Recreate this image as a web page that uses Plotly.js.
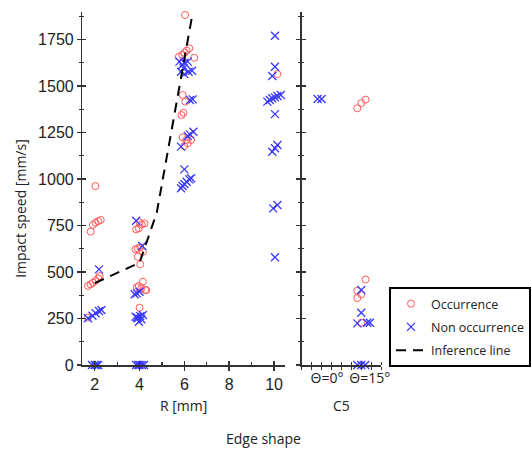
<!DOCTYPE html>
<html>
<head>
<meta charset="utf-8">
<script src="https://cdn.plot.ly/plotly-3.0.1.min.js"></script>
<style>html,body{margin:0;padding:0;background:#fff;}#chart{width:531px;height:451px;}</style>
</head>
<body>
<div id="chart"></div>
<script>
// ---- Data ----
// Left panel: edge radius R [mm] (points jittered around 2, 4, 6, 10)
const occR = [2.03,1.82,1.92,2.04,2.16,2.27,1.70,1.81,1.92,2.04,2.16,2.22,1.69,
  4.00,4.10,4.22,3.85,3.97,3.82,3.92,4.03,4.15,3.92,4.03,4.15,3.97,3.88,4.08,4.25,4.30,4.00,
  6.03,6.22,6.10,6.00,6.44,5.75,5.90,5.92,6.04,5.96,5.87,5.92,6.08,6.30,6.15,6.00,
  10.15];
const occSpeed = [962,717,753,765,774,780,425,434,442,453,466,478,255,
  767,756,762,729,735,622,627,633,609,582,541,448,425,418,412,403,403,308,
  1882,1703,1690,1679,1652,1657,1667,1452,1416,1356,1344,1224,1210,1210,1192,1177,
  1564];
const nonR = [2.19,1.70,1.90,2.04,2.19,2.30,1.88,2.00,2.08,2.15,
  3.85,4.12,3.78,3.88,4.00,3.82,3.92,4.03,4.15,3.97,4.08,3.88,3.85,3.95,4.00,4.10,4.20,
  5.78,5.90,6.00,6.15,5.85,6.00,6.19,6.34,5.96,6.37,6.25,6.40,6.25,6.15,5.85,6.00,6.22,6.10,6.00,5.92,5.85,6.30,
  10.04,10.04,9.92,9.70,9.81,9.92,10.04,10.15,10.30,10.04,9.92,10.04,10.15,9.96,10.15,10.04];
const nonSpeed = [514,251,265,278,290,296,0,0,0,0,
  776,640,380,385,394,260,251,263,269,233,246,255,0,0,0,0,0,
  1631,1613,1625,1631,1577,1564,1577,1582,1595,1428,1425,1254,1240,1231,1174,1052,998,985,973,962,950,1004,
  1770,1604,1554,1416,1425,1434,1439,1446,1452,1349,1147,1165,1183,842,860,579];
// Inference line
const lineR = [2, 4, 4.77, 6.36];
const lineSpeed = [440, 550, 820, 1887];
// Right panel: C5 edge, angle Θ (positions on a 0..8 slot axis, jittered)
const c5OccPos = [5.6,6.0,6.43,6.43,5.6,6.0,5.6,6.0];
const c5OccSpeed = [1380,1408,1427,460,399,380,360,227];
const c5NonPos = [1.6,2.0,6.0,6.0,5.6,6.6,6.87,5.6,6.0,6.4];
const c5NonSpeed = [1430,1430,403,281,224,227,227,0,0,0];
const c5TickPos = [2.55, 6.85];
const c5TickText = ['Θ=0°', 'Θ=15°'];
const rTicks = [2, 4, 6, 8, 10];

// ---- Styles ----
const RED = 'rgb(255,90,90)';
const BLUE = 'rgb(55,55,255)';
const occMarker = {symbol:'circle-open', size:7, color:RED, line:{color:RED, width:1}};
const nonMarker = {symbol:'x-thin-open', size:8, color:BLUE, line:{color:BLUE, width:1.3}};

const traces = [
  {x:occR, y:occSpeed, type:'scatter', mode:'markers', name:'Occurrence', legendgroup:'a', marker:occMarker, xaxis:'x', yaxis:'y', cliponaxis:false},
  {x:nonR, y:nonSpeed, type:'scatter', mode:'markers', name:'Non occurrence', legendgroup:'b', marker:nonMarker, xaxis:'x', yaxis:'y', cliponaxis:false},
  {x:lineR, y:lineSpeed, type:'scatter', mode:'lines', name:'Inference line', legendgroup:'c', line:{color:'#000', width:2, dash:'10px,7px'}, xaxis:'x', yaxis:'y', cliponaxis:false},
  {x:c5OccPos, y:c5OccSpeed, type:'scatter', mode:'markers', name:'Occurrence', legendgroup:'a', showlegend:false, marker:occMarker, xaxis:'x2', yaxis:'y2', cliponaxis:false},
  {x:c5NonPos, y:c5NonSpeed, type:'scatter', mode:'markers', name:'Non occurrence', legendgroup:'b', showlegend:false, marker:nonMarker, xaxis:'x2', yaxis:'y2', cliponaxis:false},
  // empty traces to host overlay axes (inner half of crossing ticks)
  {x:[], y:[], type:'scatter', mode:'markers', showlegend:false, hoverinfo:'skip', xaxis:'x3', yaxis:'y'},
  {x:[], y:[], type:'scatter', mode:'markers', showlegend:false, hoverinfo:'skip', xaxis:'x', yaxis:'y3'},
  {x:[], y:[], type:'scatter', mode:'markers', showlegend:false, hoverinfo:'skip', xaxis:'x4', yaxis:'y2'},
  {x:[], y:[], type:'scatter', mode:'markers', showlegend:false, hoverinfo:'skip', xaxis:'x2', yaxis:'y4'}
];

const W = 531, H = 451;
const xDom1 = [83/W, 287/W];
const xDom2 = [304/W, 384/W];
const yDom = [(H-365)/H, (H-12)/H];
const YR = [0, 1898];
const XR1 = [1.45, 10.48];
const XR2 = [0, 8];
const LC = '#333';
const tickFont = {family:'Liberation Sans, Arial, sans-serif', size:16, color:'#222'};
const txtFont = {family:'Open Sans, Noto Sans, sans-serif', size:14, color:'#222'};

const baseAx = {showgrid:false, zeroline:false, showline:true, linecolor:LC, linewidth:1.5, tickcolor:LC, tickwidth:1.5, fixedrange:true};

const layout = {
  width:W, height:H,
  margin:{l:0, r:0, t:0, b:0},
  paper_bgcolor:'#fff', plot_bgcolor:'#fff',
  showlegend:true,
  xaxis: Object.assign({}, baseAx, {domain:xDom1, range:XR1, anchor:'y', tickmode:'array', tickvals:rTicks, ticks:'outside', ticklen:4, tickfont:tickFont,
    minor:{tickmode:'linear', tick0:1, dtick:2, ticks:'inside', ticklen:3, tickcolor:LC, tickwidth:1.2}}),
  xaxis3: Object.assign({}, baseAx, {domain:xDom1, range:XR1, anchor:'y', overlaying:'x', tickmode:'array', tickvals:rTicks, ticks:'inside', ticklen:4, showticklabels:false, showline:false}),
  yaxis: Object.assign({}, baseAx, {domain:yDom, range:YR, anchor:'x', tickmode:'linear', tick0:0, dtick:250, ticks:'outside', ticklen:4, tickfont:tickFont,
    minor:{tickmode:'linear', tick0:125, dtick:250, ticks:'outside', ticklen:2, tickcolor:LC, tickwidth:1.2}}),
  yaxis3: Object.assign({}, baseAx, {domain:yDom, range:YR, anchor:'x', overlaying:'y', tickmode:'linear', tick0:0, dtick:250, ticks:'inside', ticklen:4, showticklabels:false, showline:false,
    minor:{tickmode:'linear', tick0:125, dtick:250, ticks:'inside', ticklen:2, tickcolor:LC, tickwidth:1.2}}),
  xaxis2: Object.assign({}, baseAx, {domain:xDom2, range:XR2, anchor:'y2', tickmode:'array', tickvals:c5TickPos, ticktext:c5TickText, ticks:'', tickfont:{family:'Open Sans, Noto Sans, sans-serif', size:14, color:'#222'},
    minor:{tickmode:'linear', tick0:0, dtick:1, ticks:'outside', ticklen:3, tickcolor:LC, tickwidth:1.2}}),
  xaxis4: Object.assign({}, baseAx, {domain:xDom2, range:XR2, anchor:'y2', overlaying:'x2', tickmode:'array', tickvals:c5TickPos, ticks:'', showticklabels:false, showline:false,
    minor:{tickmode:'linear', tick0:0, dtick:1, ticks:'inside', ticklen:3, tickcolor:LC, tickwidth:1.2}}),
  yaxis2: Object.assign({}, baseAx, {domain:yDom, range:YR, anchor:'x2', tickmode:'linear', tick0:0, dtick:250, ticks:'outside', ticklen:4, showticklabels:false,
    minor:{tickmode:'linear', tick0:125, dtick:250, ticks:'outside', ticklen:2, tickcolor:LC, tickwidth:1.2}}),
  yaxis4: Object.assign({}, baseAx, {domain:yDom, range:YR, anchor:'x2', overlaying:'y2', tickmode:'linear', tick0:0, dtick:250, ticks:'inside', ticklen:4, showticklabels:false, showline:false,
    minor:{tickmode:'linear', tick0:125, dtick:250, ticks:'inside', ticklen:2, tickcolor:LC, tickwidth:1.2}}),
  legend:{x:392/W, y:(H-287)/H, xanchor:'left', yanchor:'top', bgcolor:'#fff', bordercolor:'#000', borderwidth:2,
    traceorder:'grouped', tracegroupgap:4,
    font:{family:'Open Sans, Noto Sans, sans-serif', size:12.5, color:'#222'}},
  annotations:[
    {text:'Impact speed [mm/s]', xref:'paper', yref:'paper', x:20/W, y:(H-208)/H, xanchor:'center', yanchor:'middle', textangle:-90, showarrow:false, font:txtFont},
    {text:'R [mm]', xref:'paper', yref:'paper', x:185/W, y:(H-405)/H, xanchor:'center', yanchor:'middle', showarrow:false, font:txtFont},
    {text:'C5', xref:'paper', yref:'paper', x:344/W, y:(H-405)/H, xanchor:'center', yanchor:'middle', showarrow:false, font:txtFont},
    {text:'Edge shape', xref:'paper', yref:'paper', x:265/W, y:(H-438)/H, xanchor:'center', yanchor:'middle', showarrow:false, font:txtFont}
  ]
};

Plotly.newPlot('chart', traces, layout, {staticPlot:true, displayModeBar:false});
</script>
</body>
</html>
